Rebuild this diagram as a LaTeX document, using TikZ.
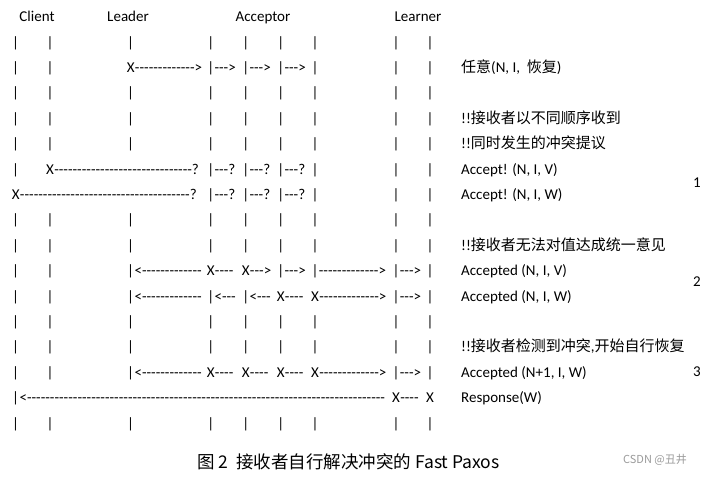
\documentclass[tikz,border=0pt]{standalone}
\usepackage{fontspec}
\setmainfont{Carlito}[Ligatures=TeXOff]
\newfontfamily\cjk{Noto Sans CJK SC}
\usetikzlibrary{positioning}
\definecolor{markgray}{HTML}{9A9A9A}

\begin{document}
\begin{tikzpicture}[
        x=1pt, y=-1pt,
        ascii/.style={
            inner sep=0pt,
            font=\fontsize{15}{18}\selectfont,
            text height=11pt,
            text depth=3.5pt
        },
        head/.style={ascii},
        tail/.style={ascii, anchor=west},
        note/.style={ascii, anchor=west},
        role/.style={ascii}
    ]
    \useasboundingbox (0,0) rectangle (719,479);

    % columns and rows of the text grid
    \foreach \c/\x in {1/15.7, 2/50, 3/130.7, 4/210.7, 5/245.7, 6/280.7, 7/315, 8/396, 9/430}
        \coordinate (col\c) at (\x,0);
    \foreach \r in {0,...,15}
        \coordinate (row\r) at (0,{43.4+25.4*\r});
    \coordinate (notes) at (461,0);

    % roles
    \node[role] (client) at (37,17.5) {Client};
    \node[role] (leader) at (128,17.5) {Leader};
    \node[role] (acceptor) at (263,17.5) {Acceptor};
    \node[role] (learner) at (418,17.5) {Learner};

    % plain bars
    \foreach \r/\cols in {0/{1,...,9}, 1/{1,2,7,8,9}, 2/{1,...,9}, 3/{1,...,9},
            4/{1,...,9}, 5/{1,7,8,9}, 6/{7,8,9}, 7/{1,...,9}, 8/{1,...,9},
            9/{1,2,9}, 10/{1,2,9}, 11/{1,...,9}, 12/{1,...,9}, 13/{1,2,9},
            15/{1,...,9}}
        \foreach \c in \cols
            \node[head] (b\r-\c) at (col\c |- row\r) {|};

    % messages
    \foreach \r/\c/\hd/\tl in {
            1/3/X/{------------->}, 1/4/|/{--->}, 1/5/|/{--->}, 1/6/|/{--->},
            5/2/X/{------------------------------?},
            5/4/|/{---?}, 5/5/|/{---?}, 5/6/|/{---?},
            6/1/X/{-------------------------------------?},
            6/4/|/{---?}, 6/5/|/{---?}, 6/6/|/{---?},
            9/3/|/{<-------------}, 9/4/X/{----}, 9/5/X/{--->}, 9/6/|/{--->},
            9/7/|/{------------->}, 9/8/|/{--->},
            10/3/|/{<-------------}, 10/4/|/{<---}, 10/5/|/{<---}, 10/6/X/{----},
            10/7/X/{------------->}, 10/8/|/{--->},
            13/3/|/{<-------------}, 13/4/X/{----}, 13/5/X/{----}, 13/6/X/{----},
            13/7/X/{------------->}, 13/8/|/{--->},
            14/1/|/{<------------------------------------------------------------------------------},
            14/8/X/{----}}{
        \node[head] (h\r-\c) at (col\c |- row\r) {\hd};
        \node[tail, right=0pt of h\r-\c] (t\r-\c) {\tl};
    }
    \node[head] (h14-9) at (col9 |- row14) {X};

    % notes on the right
    \node[note] (n1) at (notes |- row1) {{\cjk 任意}(N, I,~~{\cjk 恢复})};
    \node[note] (n3) at (notes |- row3) {!!{\cjk 接收者以不同顺序收到}};
    \node[note] (n4) at (notes |- row4) {!!{\cjk 同时发生的冲突提议}};
    \node[note] (n5) at (notes |- row5) {Accept! (N, I, V)};
    \node[note] (n6) at (notes |- row6) {Accept! (N, I, W)};
    \node[note] (n8) at (notes |- row8) {!!{\cjk 接收者无法对值达成统一意见}};
    \node[note] (n9) at (notes |- row9) {Accepted (N, I, V)};
    \node[note] (n10) at (notes |- row10) {Accepted (N, I, W)};
    \node[note] (n12) at (notes |- row12) {!!{\cjk 接收者检测到冲突},{\cjk 开始自行恢复}};
    \node[note] (n13) at (notes |- row13) {Accepted (N+1, I, W)};
    \node[note] (n14) at (notes |- row14) {Response(W)};

    % phases
    \node[role] (phase1) at (697,184) {1};
    \node[role] (phase2) at (697,283) {2};
    \node[role] (phase3) at (697,373) {3};

    \node[font=\cjk\fontsize{17.5}{20}\selectfont] (caption) at (348.5,462)
        {图 2\ \ 接收者自行解决冲突的 Fast Paxos};
    \node[font=\cjk\fontsize{11}{13}\selectfont, text=markgray] (mark) at (655,460)
        {CSDN @丑井};
\end{tikzpicture}
\end{document}
